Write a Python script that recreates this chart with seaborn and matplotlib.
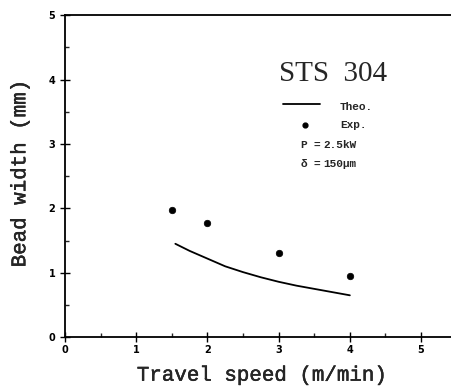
import matplotlib
matplotlib.use("Agg")
import matplotlib.pyplot as plt
import matplotlib.patheffects as pe
import seaborn as sns
import pandas as pd
from matplotlib.ticker import MultipleLocator

# Experimental bead widths
exp_speed = [1.5, 2.0, 3.0, 4.0]
exp_width = [1.97, 1.77, 1.30, 0.95]

# Theoretical curve
theo_speed = [1.55, 1.75, 2.0, 2.25, 2.5, 2.75, 3.0, 3.25, 3.5, 3.75, 4.0]
theo_width = [1.45, 1.34, 1.22, 1.10, 1.01, 0.93, 0.86, 0.80, 0.75, 0.70, 0.65]

x_ticks = [0, 1, 2, 3, 4, 5]
y_ticks = [0, 1, 2, 3, 4, 5]

exp_df = pd.DataFrame({"speed": exp_speed, "width": exp_width})
theo_df = pd.DataFrame({"speed": theo_speed, "width": theo_width})

sns.set_style("ticks")
plt.rcParams["font.family"] = ["DejaVu Sans"]

fig = plt.figure(figsize=(4.51, 3.88), dpi=100)
ax = fig.add_axes([0.144, 0.131, 0.856, 0.830])

sns.lineplot(data=theo_df, x="speed", y="width", ax=ax, color="black", linewidth=1.3)
sns.scatterplot(data=exp_df, x="speed", y="width", ax=ax, color="black", s=22,
                edgecolor="black", linewidth=0.5)

ax.set_xlim(0, 5.42)
ax.set_ylim(0, 5)
ax.set_xticks(x_ticks)
ax.set_yticks(y_ticks)
ax.xaxis.set_minor_locator(MultipleLocator(0.5))
ax.yaxis.set_minor_locator(MultipleLocator(0.5))
ax.tick_params(axis="both", which="major", direction="inout", length=7, width=1.0,
               labelsize=7, colors="black")
ax.tick_params(axis="both", which="minor", direction="in", length=3, width=1.0)
ax.tick_params(axis="x", pad=2)
for lbl in ax.get_xticklabels() + ax.get_yticklabels():
    lbl.set_fontweight("bold")

for side in ["left", "bottom", "top"]:
    ax.spines[side].set_visible(True)
    ax.spines[side].set_linewidth(1.3)
    ax.spines[side].set_color("black")
ax.spines["right"].set_visible(False)

mono = ["Liberation Mono", "DejaVu Sans Mono"]
serif = ["Liberation Serif", "DejaVu Serif"]
thicken = [pe.withStroke(linewidth=0.3, foreground="black")]
ax.set_xlabel("Travel speed (m/min)", fontsize=15, family=mono)
ax.set_ylabel("Bead width (mm)", fontsize=15, family=mono)
for lab in (ax.xaxis.label, ax.yaxis.label):
    lab.set_va("center")
    lab.set_path_effects(thicken)
ax.xaxis.set_label_coords(0.510, -0.118)
ax.yaxis.set_label_coords(-0.117, 0.508)

ax.text(3.76, 4.08, "STS  304", fontsize=21, family=serif, ha="center", va="center")

# In-plot key
kw = dict(fontsize=8, family=mono, fontweight="bold", va="center", ha="left")
ax.plot([3.06, 3.58], [3.62, 3.62], color="black", linewidth=1.3)
ax.text(3.86, 3.58, "Theo.", **kw)
ax.scatter([3.37], [3.29], color="black", s=12)
ax.text(3.86, 3.29, "Exp.", **kw)
ax.text(3.31, 2.98, "P", **kw)
ax.text(3.49, 2.98, "=", **kw)
ax.text(3.63, 2.98, "2.5kW", **kw)
ax.text(3.31, 2.69, "\u03b4", **kw)
ax.text(3.49, 2.69, "=", **kw)
ax.text(3.63, 2.69, "150\u03bcm", **kw)

fig.savefig("out.png", dpi=100)
